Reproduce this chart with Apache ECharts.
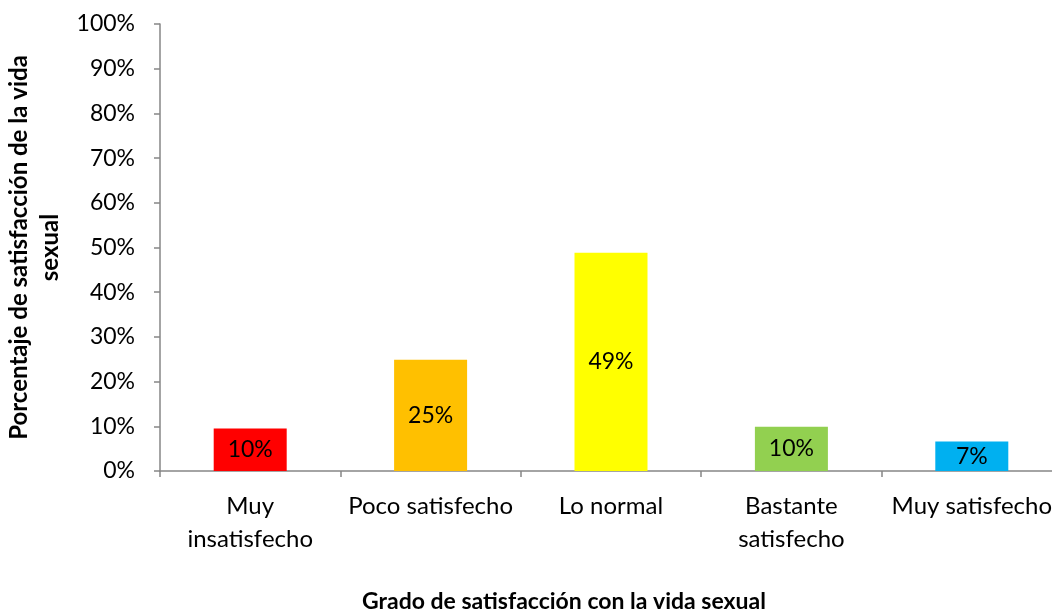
<!DOCTYPE html>
<html>
<head>
<meta charset="utf-8">
<script src="https://cdn.jsdelivr.net/npm/echarts@6/dist/echarts.min.js"></script>
<style>
  html, body { margin: 0; padding: 0; background: #fff; }
  #main { width: 1052px; height: 615px; }
</style>
</head>
<body>
<div id="main"></div>
<script>
// categories and values
const categories = ['Muy\ninsatisfecho', 'Poco satisfecho', 'Lo normal', 'Bastante\nsatisfecho', 'Muy satisfecho'];
const values = [9.5, 24.9, 48.8, 9.9, 6.6];
const labels = ['10%', '25%', '49%', '10%', '7%'];
const barColors = ['#FF0000', '#FFC000', '#FFFF00', '#92D050', '#00B0F0'];

const font = 'Lato, "Open Sans", sans-serif';
const axisGray = '#868686';

var myChart = echarts.init(document.getElementById('main'));
var option = {
    animation: false,
    textStyle: { fontFamily: font },
    title: {
        text: 'Grado de satisfacción con la vida sexual',
        left: 362,
        top: 590,
        padding: 0,
        textStyle: { fontFamily: font, fontSize: 23, fontWeight: 'bold', color: '#000' }
    },
    grid: { left: 160, right: -10, top: 24, bottom: 144, containLabel: false, outerBoundsMode: 'none' },
    xAxis: {
        type: 'category',
        data: categories,
        axisLine: { lineStyle: { color: axisGray, width: 1.5 } },
        axisTick: { show: true, length: 6, lineStyle: { color: axisGray, width: 1.5 } },
        axisLabel: { color: '#000', fontSize: 24, fontFamily: font, margin: 19, lineHeight: 33, interval: 0 }
    },
    yAxis: {
        type: 'value',
        min: 0,
        max: 100,
        interval: 10,
        name: 'Porcentaje de satisfacción de la vida\nsexual',
        nameLocation: 'middle',
        nameGap: 88,
        nameTextStyle: { fontFamily: font, fontSize: 24, fontWeight: 'bold', color: '#000', lineHeight: 31 },
        splitLine: { show: false },
        axisLine: { show: true, lineStyle: { color: axisGray, width: 1.5 } },
        axisTick: { show: true, length: 6, lineStyle: { color: axisGray, width: 1.5 } },
        axisLabel: { color: '#000', fontSize: 23, fontFamily: font, margin: 25, formatter: '{value}%' }
    },
    series: [{
        type: 'bar',
        barWidth: 73,
        data: values.map(function (v, i) {
            return { value: v, itemStyle: { color: barColors[i] } };
        }),
        label: {
            show: true,
            position: 'inside',
            color: '#000',
            fontSize: 23,
            fontFamily: font,
            formatter: function (p) { return labels[p.dataIndex]; }
        }
    }]
};
myChart.setOption(option);
</script>
</body>
</html>
